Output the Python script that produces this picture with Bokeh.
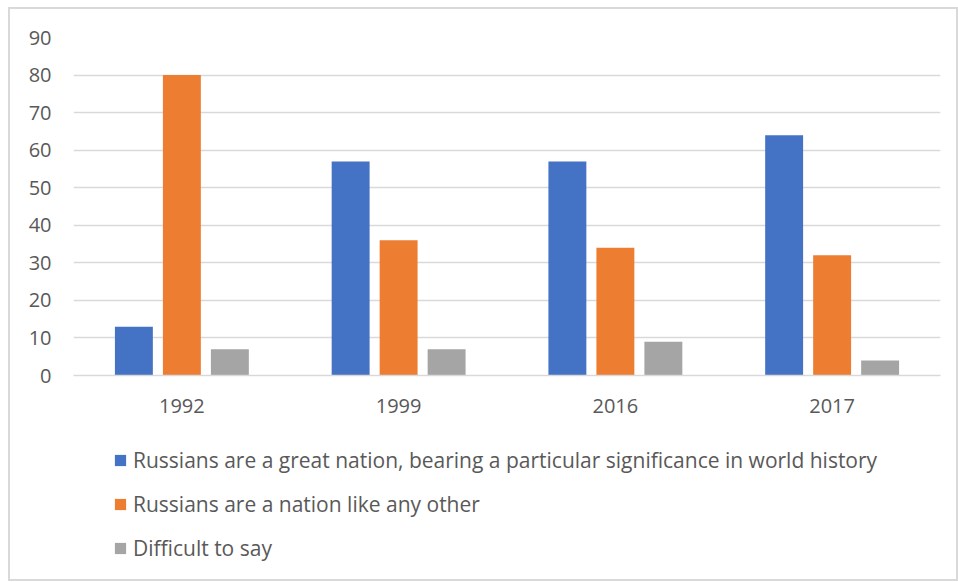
from bokeh.plotting import figure
from bokeh.layouts import column
from bokeh.models import ColumnDataSource, FactorRange, Legend, LegendItem, Range1d, FixedTicker
from bokeh.transform import dodge
from bokeh.embed import file_html
from bokeh.resources import INLINE

years = ["1992", "1999", "2016", "2017"]
great_nation = [13, 57, 57, 64]
like_any_other = [80, 36, 34, 32]
difficult = [7, 7, 9, 4]
series_labels = [
    "Russians are a great nation, bearing a particular significance in world history",
    "Russians are a nation like any other",
    "Difficult to say",
]
colors = ["#4472C4", "#ED7D31", "#A5A5A5"]
y_ticks = [0, 10, 20, 30, 40, 50, 60, 70, 80, 90]

source = ColumnDataSource(data=dict(year=years, a=great_nation, b=like_any_other, c=difficult))

FONT = "Open Sans"
TXT = "#595959"
GRID = "#d9d9d9"

p = figure(
    x_range=FactorRange(*years, range_padding=0, factor_padding=0),
    y_range=Range1d(0, 90),
    width=946, height=420,
    output_backend="svg", toolbar_location=None,
    min_border_left=63, min_border_right=16, min_border_top=28, min_border_bottom=54,
)
p.outline_line_color = None
p.background_fill_color = "white"
p.border_fill_color = "white"

w = 0.175
off = 0.2214
for col, offset, color in zip(["a", "b", "c"], [-off, 0, off], colors):
    p.vbar(x=dodge("year", offset, range=p.x_range), top=col, width=w, source=source,
           fill_color=color, line_color=None)

p.xgrid.grid_line_color = None
p.ygrid.grid_line_color = GRID
p.ygrid.grid_line_width = 1.5
p.yaxis.ticker = FixedTicker(ticks=y_ticks)
p.yaxis.axis_line_color = None
p.yaxis.major_tick_line_color = None
p.yaxis.minor_tick_line_color = None
p.yaxis.major_tick_out = 0
p.yaxis.major_tick_in = 0
p.yaxis.major_label_standoff = 22
p.yaxis.major_label_text_font = FONT
p.yaxis.major_label_text_font_size = "20px"
p.yaxis.major_label_text_color = TXT

p.xaxis.axis_line_color = GRID
p.xaxis.axis_line_width = 1.5
p.xaxis.major_tick_line_color = None
p.xaxis.minor_tick_line_color = None
p.xaxis.major_tick_out = 0
p.xaxis.major_tick_in = 0
p.xaxis.major_label_standoff = 23
p.xaxis.major_label_text_font = FONT
p.xaxis.major_label_text_font_size = "20px"
p.xaxis.major_label_text_color = TXT

# legend panel (proxy renderers are hidden; only their legend swatches show)
lp = figure(width=946, height=150, output_backend="svg", toolbar_location=None,
            x_range=FactorRange(*years), y_range=Range1d(0, 90),
            x_axis_type=None, y_axis_type=None,
            min_border_left=0, min_border_right=0, min_border_top=0, min_border_bottom=0)
lp.outline_line_color = None
lp.xgrid.grid_line_color = None
lp.ygrid.grid_line_color = None
items = []
for col, lab, color in zip(["a", "b", "c"], series_labels, colors):
    r = lp.vbar(x="year", top=col, width=0.2, source=source, fill_color=color, line_color=None,
                visible=False)
    items.append(LegendItem(label=lab, renderers=[r]))

legend = Legend(
    items=items,
    location=(40, 17),
    orientation="vertical",
    glyph_width=14, glyph_height=14,
    label_standoff=6,
    label_text_font=FONT, label_text_font_size="21px", label_text_color=TXT,
    spacing=16, padding=0, margin=0,
    border_line_color=None, background_fill_alpha=0,
    inactive_fill_alpha=0,
)
lp.add_layout(legend, "center")

layout = column(p, lp, spacing=0,
                styles={"margin-left": "8px", "margin-top": "7px", "border": "2px solid #d9d9d9"})

open("out.html", "w").write(file_html(layout, INLINE))
